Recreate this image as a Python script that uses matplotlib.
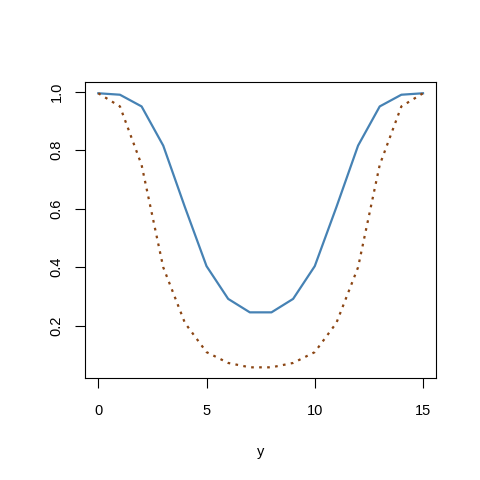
import matplotlib
matplotlib.use("Agg")
import matplotlib.pyplot as plt
import numpy as np

x_vals = list(range(16))
blue_vals = [0.995, 0.99, 0.95, 0.816, 0.606, 0.404, 0.292, 0.246,
             0.246, 0.292, 0.404, 0.606, 0.816, 0.95, 0.99, 0.995]
brown_vals = [0.995, 0.95, 0.75, 0.40, 0.21, 0.11, 0.073, 0.058,
              0.058, 0.073, 0.11, 0.21, 0.40, 0.75, 0.95, 0.995]
x_ticks = [0, 5, 10, 15]
y_ticks = [0.2, 0.4, 0.6, 0.8, 1.0]
x_label = "y"

plt.rcParams['font.family'] = ['Liberation Sans', 'DejaVu Sans']

fig = plt.figure(figsize=(4.8, 4.8), dpi=100)
ax = fig.add_axes([85.3/480, 1-378.3/480, (436-85.3)/480, (378.3-82.3)/480])

ax.plot(x_vals, blue_vals, color='#4682B4', lw=1.6, solid_joinstyle='round')
ax.plot(x_vals, brown_vals, color='#8B4513', lw=1.6, linestyle=(0, (1.2, 2.4)),
        dash_capstyle='butt')

xmin, xmax = min(x_vals), max(x_vals)
xr = xmax - xmin
ax.set_xlim(xmin - 0.04*xr, xmax + 0.04*xr)
allv = blue_vals + brown_vals
ymin, ymax = min(allv), max(allv)
yr = ymax - ymin
ax.set_ylim(ymin - 0.04*yr, ymax + 0.04*yr)

ax.set_xticks(x_ticks)
ax.set_xticklabels([str(t) for t in x_ticks])
ax.set_yticks(y_ticks)
ax.set_yticklabels([f"{t:.1f}" for t in y_ticks], rotation=90, va='center')

ax.tick_params(axis='both', direction='out', length=7.2, width=0.8,
               labelsize=10.5, colors='black')
ax.tick_params(axis='x', pad=11.5)
ax.tick_params(axis='y', pad=8.5)
for s in ax.spines.values():
    s.set_linewidth(0.8)

ax.set_xlabel(x_label, fontsize=10.5, labelpad=19)

fig.savefig("out.png", dpi=100)
